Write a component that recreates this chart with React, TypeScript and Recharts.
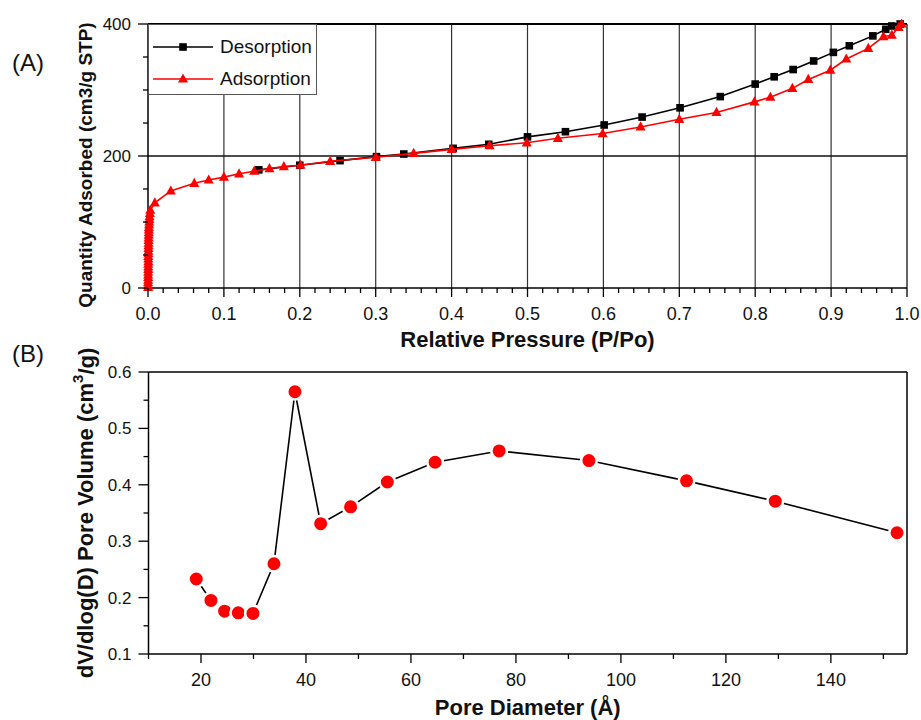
import React from 'react';
import {
  ScatterChart,
  Scatter,
  XAxis,
  YAxis,
  ReferenceLine,
  Legend,
} from 'recharts';

const FONT = '"Liberation Sans", Arial, Helvetica, sans-serif';

// (A) N2 isotherm, relative pressure vs quantity adsorbed
const desorptionP = [0.146, 0.2, 0.253, 0.301, 0.337, 0.402, 0.449, 0.5, 0.55, 0.601, 0.651, 0.701, 0.754, 0.8, 0.825, 0.85, 0.877, 0.903, 0.924, 0.955, 0.972, 0.98, 0.991];
const desorptionQ = [179, 186, 193, 199, 203, 211.6, 217.7, 229, 236.8, 247, 259, 273, 290, 309, 320, 331, 344, 357, 367, 382, 392, 397, 400];

const adsorptionP = [
  0.0001, 0.0001, 0.0001, 0.0002, 0.0002, 0.0002, 0.0002, 0.0003, 0.0003, 0.0003, 0.0004, 0.0004, 0.0004, 0.0005, 0.0005,
  0.0006, 0.0006, 0.0007, 0.0007, 0.0008, 0.0009, 0.001, 0.0011, 0.0012, 0.0014, 0.0016, 0.0018, 0.002, 0.0025, 0.003,
  0.009, 0.03, 0.061, 0.08, 0.1, 0.12, 0.14, 0.16, 0.179, 0.201, 0.24, 0.3, 0.35, 0.4, 0.45, 0.499, 0.54, 0.599, 0.649, 0.7, 0.749,
  0.799, 0.82, 0.849, 0.87, 0.899, 0.92, 0.949, 0.969, 0.98, 0.989, 0.993,
];
const adsorptionQ = [
  1, 4, 8, 12, 16, 20, 24, 28, 32, 36, 40, 44, 48, 52, 56,
  60, 64, 68, 72, 76, 80, 84, 88, 92, 96, 100, 104, 108, 113, 118,
  129, 147, 158.6, 163.6, 168, 173, 177, 181, 184, 186, 192, 198, 204, 210, 215.6, 220, 226.8, 234, 244, 255.6, 266,
  282, 289, 302.5, 316, 330, 347, 363, 381, 383, 395, 400,
];

const pressureTicks = [0, 0.1, 0.2, 0.3, 0.4, 0.5, 0.6, 0.7, 0.8, 0.9, 1.0];
const quantityTicks = [0, 200, 400];
const gridP = [0.1, 0.2, 0.3, 0.4, 0.5, 0.6, 0.7, 0.8, 0.9];

// (B) BJH pore size distribution
const poreDiameter = [19.1, 21.9, 24.5, 27.1, 29.9, 33.9, 37.9, 42.8, 48.5, 55.5, 64.6, 76.8, 93.9, 112.5, 129.4, 152.6];
const poreVolume = [0.233, 0.195, 0.176, 0.173, 0.172, 0.26, 0.565, 0.331, 0.361, 0.405, 0.44, 0.46, 0.443, 0.407, 0.371, 0.315];

const diameterTicks = [20, 40, 60, 80, 100, 120, 140];
const volumeTicks = [0.1, 0.2, 0.3, 0.4, 0.5, 0.6];

const desorption = desorptionP.map((p, i) => ({ p, q: desorptionQ[i] }));
const adsorption = adsorptionP.map((p, i) => ({ p, q: adsorptionQ[i] }));
const distribution = poreDiameter.map((d, i) => ({ d, v: poreVolume[i] }));

// minor ticks between the labelled ones
const withMinor = (major: number[], parts: number) => {
  const out: number[] = [];
  for (let i = 0; i < major.length - 1; i++) {
    const step = (major[i + 1] - major[i]) / parts;
    for (let k = 0; k < parts; k++) out.push(+(major[i] + k * step).toFixed(4));
  }
  out.push(major[major.length - 1]);
  return out;
};

const isIn = (list: number[], v: number) => list.some((m) => Math.abs(m - v) < 1e-6);

const Square = (props: any) => (
  <rect x={props.cx - 3.8} y={props.cy - 3.8} width={7.6} height={7.6} fill="#000" />
);
const Triangle = (props: any) => (
  <path
    d={`M${props.cx},${props.cy - 5.6} L${props.cx + 5},${props.cy + 3.6} L${props.cx - 5},${props.cy + 3.6} Z`}
    fill="#ff0000"
  />
);
const Dot = (props: any) => (
  <circle cx={props.cx} cy={props.cy} r={7.8} fill="#ff0000" stroke="#fff" strokeWidth={2.6} />
);

const makeXTick = (majors: number[], fmt: (v: number) => string) => (props: any) => {
  const { x, y, payload } = props;
  const major = isIn(majors, payload.value);
  return (
    <g>
      <line x1={x} x2={x} y1={y} y2={y + (major ? 9 : 5)} stroke="#000" strokeWidth={1.3} />
      {major && (
        <text x={x} y={y + 32} textAnchor="middle" fontSize={18} fill="#111" fontFamily={FONT}>
          {fmt(payload.value)}
        </text>
      )}
    </g>
  );
};

const makeYTick = (majors: number[], fmt: (v: number) => string) => (props: any) => {
  const { x, y, payload } = props;
  const major = isIn(majors, payload.value);
  return (
    <g>
      <line x1={x} x2={x - (major ? 10 : 5)} y1={y} y2={y} stroke="#000" strokeWidth={1.3} />
      {major && (
        <text x={x - 17} y={y + 6} textAnchor="end" fontSize={17} fill="#111" fontFamily={FONT}>
          {fmt(payload.value)}
        </text>
      )}
    </g>
  );
};

const xTitle = (text: string, dy: number) => (props: any) => {
  const { x, y, width } = props.viewBox;
  return (
    <text x={x + width / 2} y={y + dy} textAnchor="middle" fontSize={22} fontWeight="bold" fontFamily={FONT} fill="#111">
      {text}
    </text>
  );
};

const TopYTitle = (props: any) => {
  const { x, y, height } = props.viewBox;
  const cx = x - 3;
  const cy = y + height / 2 + 9;
  return (
    <text x={cx} y={cy} transform={`rotate(-90 ${cx} ${cy})`} textAnchor="middle" dominantBaseline="central"
      fontSize={19} fontWeight="bold" fontFamily={FONT} fill="#111">
      Quantity Adsorbed (cm3/g STP)
    </text>
  );
};

const BottomYTitle = (props: any) => {
  const { x, y, height } = props.viewBox;
  const cx = x - 3;
  const cy = y + height / 2;
  return (
    <text x={cx} y={cy} transform={`rotate(-90 ${cx} ${cy})`} textAnchor="middle" dominantBaseline="central"
      fontSize={22} fontWeight="bold" fontFamily={FONT} fill="#111">
      dV/dlog(D) Pore Volume (cm
      <tspan fontSize={15} dy={-9}>3</tspan>
      <tspan dy={9}>/g)</tspan>
    </text>
  );
};

const legendItems = [
  { name: 'Desorption', color: '#000', shape: 'square', top: 22 },
  { name: 'Adsorption', color: '#ff0000', shape: 'triangle', top: 54 },
];

const IsothermLegend = () => (
  <div style={{ position: 'relative', width: 169, height: 71, background: '#fff', border: '1px solid #555', boxSizing: 'border-box', fontFamily: FONT }}>
    {legendItems.map((item) => (
      <React.Fragment key={item.name}>
        <svg width={62} height={14} style={{ position: 'absolute', left: 3, top: item.top - 7 }}>
          <line x1={1} x2={61} y1={7} y2={7} stroke={item.color} strokeWidth={1.5} />
          {item.shape === 'square' ? (
            <rect x={27.2} y={3.2} width={7.6} height={7.6} fill={item.color} />
          ) : (
            <path d="M31,1.4 L36,10.6 L26,10.6 Z" fill={item.color} />
          )}
        </svg>
        <span style={{ position: 'absolute', left: 71, top: item.top - 11, fontSize: 19, lineHeight: '22px', color: '#111', whiteSpace: 'nowrap' }}>
          {item.name}
        </span>
      </React.Fragment>
    ))}
  </div>
);

const App = () => {
  const pTicks = withMinor(pressureTicks, 5);
  const qTicks = withMinor(quantityTicks, 4);
  const dTicks = [10, ...withMinor(diameterTicks, 2), 150];
  const vTicks = withMinor(volumeTicks, 2);

  return (
    <div style={{ position: 'absolute', left: 0, top: 0, width: 921, height: 720, background: '#fff', fontFamily: FONT }}>
      <div style={{ position: 'absolute', left: 0, top: 340 }}>
        <ScatterChart width={921} height={380} margin={{ top: 32, right: 14, bottom: 36, left: 88.5 }}>
          <XAxis
            type="number"
            dataKey="d"
            domain={[10, 154.5]}
            ticks={dTicks}
            interval={0}
            height={30}
            tickSize={0}
            tickMargin={0}
            tickLine={false}
            axisLine={{ stroke: '#000', strokeWidth: 1.5 }}
            tick={makeXTick(diameterTicks, (v) => String(v))}
            label={xTitle('Pore Diameter (\u00c5)', 61)}
          />
          <YAxis
            type="number"
            dataKey="v"
            domain={[0.1, 0.6]}
            ticks={vTicks}
            interval={0}
            width={60}
            tickSize={0}
            tickMargin={0}
            tickLine={false}
            axisLine={{ stroke: '#000', strokeWidth: 1.5 }}
            tick={makeYTick(volumeTicks, (v) => v.toFixed(1))}
            label={BottomYTitle}
          />
          <ReferenceLine y={0.6} stroke="#000" strokeWidth={1.5} />
          <ReferenceLine x={154.5} stroke="#000" strokeWidth={1.5} />
          <Scatter
            name="Pore volume"
            data={distribution}
            line={{ stroke: '#000', strokeWidth: 1.6 }}
            lineType="joint"
            shape={Dot}
            isAnimationActive={false}
          />
        </ScatterChart>
      </div>

      <div style={{ position: 'absolute', left: 0, top: 0 }}>
        <ScatterChart width={921} height={362} margin={{ top: 24, right: 14, bottom: 44, left: 88 }}>
          <XAxis
            type="number"
            dataKey="p"
            domain={[0, 1]}
            ticks={pTicks}
            interval={0}
            height={30}
            tickSize={0}
            tickMargin={0}
            tickLine={false}
            axisLine={{ stroke: '#000', strokeWidth: 1.5 }}
            tick={makeXTick(pressureTicks, (v) => v.toFixed(1))}
            label={xTitle('Relative Pressure (P/Po)', 59)}
          />
          <YAxis
            type="number"
            dataKey="q"
            domain={[0, 400]}
            ticks={qTicks}
            interval={0}
            width={60}
            tickSize={0}
            tickMargin={0}
            tickLine={false}
            axisLine={{ stroke: '#000', strokeWidth: 1.5 }}
            tick={makeYTick(quantityTicks, (v) => String(v))}
            label={TopYTitle}
          />
          {gridP.map((g) => (
            <ReferenceLine key={g} x={g} stroke="#333" strokeWidth={1.2} />
          ))}
          <ReferenceLine y={200} stroke="#111" strokeWidth={1.3} />
          <ReferenceLine y={400} stroke="#000" strokeWidth={2} />
          <ReferenceLine x={1} stroke="#333" strokeWidth={1.5} />
          <Legend
            layout="vertical"
            align="center"
            verticalAlign="middle"
            content={IsothermLegend}
            wrapperStyle={{ left: 148, top: 24, width: 169, height: 71 }}
          />
          <Scatter
            name="Desorption"
            data={desorption}
            line={{ stroke: '#000', strokeWidth: 1.6 }}
            lineType="joint"
            shape={Square}
            isAnimationActive={false}
          />
          <Scatter
            name="Adsorption"
            data={adsorption}
            line={{ stroke: '#ff0000', strokeWidth: 1.6 }}
            lineType="joint"
            shape={Triangle}
            isAnimationActive={false}
          />
        </ScatterChart>
      </div>

      <svg width={921} height={720} style={{ position: 'absolute', left: 0, top: 0, pointerEvents: 'none' }}>
        <text x={12} y={71} fontSize={24} fontFamily={FONT} fill="#111">(A)</text>
        <text x={12} y={362} fontSize={24} fontFamily={FONT} fill="#111">(B)</text>
      </svg>
    </div>
  );
};

export default App;
